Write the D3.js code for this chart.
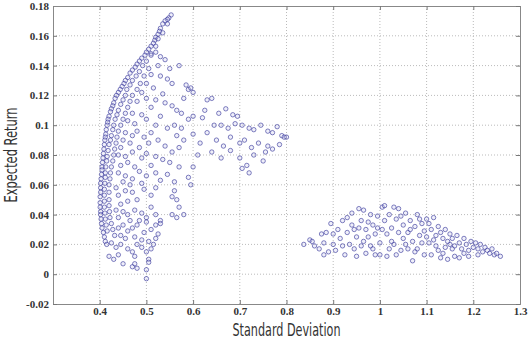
<!DOCTYPE html>
<html>
  <head>
    <meta charset="utf-8">
    <title>Expected Return vs Standard Deviation</title>
    <script src="https://cdn.jsdelivr.net/npm/d3@7/dist/d3.min.js"></script>
    <style>
      body { margin: 0; background: #fff; }
      .tick text { font-family: "Liberation Serif", serif; font-weight: bold; font-size: 11px; fill: #333; }
      .axis-label { font-family: "Liberation Sans Narrow", "DejaVu Sans Condensed", sans-serif; font-size: 17px; fill: #333; }
    </style>
  </head>
  <body>
    <script>

// axis ticks
var xTicks = [0.4, 0.5, 0.6, 0.7, 0.8, 0.9, 1, 1.1, 1.2, 1.3];
var yTicks = [-0.02, 0, 0.02, 0.04, 0.06, 0.08, 0.1, 0.12, 0.14, 0.16, 0.18];

// portfolios as [standard deviation, expected return]
// dense band along the upper-left edge
var edgePts = [
  [0.553,0.174],[0.548,0.172],[0.545,0.171],[0.54,0.17],
  [0.535,0.168],[0.53,0.165],[0.528,0.163],[0.525,0.161],[0.52,0.159],[0.518,0.157],
  [0.515,0.155],[0.51,0.153],[0.505,0.151],[0.5,0.149],[0.497,0.147],
  [0.49,0.145],[0.485,0.143],[0.48,0.141],[0.476,0.139],[0.47,0.137],
  [0.465,0.135],[0.46,0.132],[0.455,0.13],[0.452,0.128],
  [0.448,0.126],[0.444,0.124],[0.44,0.122],[0.436,0.12],[0.433,0.118],
  [0.43,0.115],[0.428,0.113],[0.425,0.111],[0.423,0.109],
  [0.42,0.106],[0.418,0.104],[0.417,0.102],[0.416,0.1],
  [0.414,0.097],[0.413,0.094],[0.412,0.092],[0.411,0.09],
  [0.41,0.087],[0.409,0.084],[0.408,0.081],[0.407,0.078],
  [0.406,0.075],[0.405,0.072],[0.405,0.07],
  [0.404,0.067],[0.403,0.064],[0.402,0.061],
  [0.402,0.058],[0.402,0.055],[0.401,0.052],
  [0.401,0.048],[0.401,0.045],[0.402,0.042],[0.402,0.04],
  [0.403,0.037],[0.404,0.034],[0.405,0.031],
  [0.408,0.028],[0.41,0.025],[0.412,0.022],[0.415,0.02],
  [0.545,0.168],[0.535,0.162],[0.525,0.158],[0.52,0.153],[0.51,0.148],[0.5,0.143],
  [0.492,0.14],[0.485,0.136],[0.478,0.133],[0.47,0.13],[0.465,0.127],[0.458,0.124],
  [0.455,0.12],[0.45,0.117],[0.445,0.114],[0.44,0.11],[0.437,0.107],[0.433,0.104],
  [0.43,0.1],[0.428,0.097],[0.425,0.093],[0.423,0.09],[0.42,0.087],[0.418,0.083],
  [0.416,0.079],[0.415,0.076],[0.413,0.072],[0.412,0.068],[0.412,0.065],[0.411,0.061],
  [0.41,0.057],[0.41,0.053],[0.41,0.049],[0.41,0.045],[0.411,0.041],[0.412,0.037],
  [0.414,0.033],[0.416,0.029],
  [0.505,0.138],[0.495,0.133],[0.487,0.128],[0.48,0.124],[0.47,0.12],[0.465,0.116],
  [0.46,0.112],[0.455,0.108],[0.45,0.104],[0.445,0.1],[0.44,0.096],[0.437,0.092],
  [0.435,0.088],[0.432,0.084],[0.43,0.08],[0.428,0.076],[0.425,0.072],[0.423,0.068],
  [0.422,0.064],[0.42,0.06],[0.42,0.055],[0.42,0.05],[0.42,0.046],[0.421,0.042],
  [0.422,0.038],[0.425,0.034],[0.428,0.03],[0.432,0.026]
];

// scattered points inside the left cloud
var innerPts = [
  [0.51,0.147],[0.52,0.149],[0.53,0.146],[0.54,0.144],[0.525,0.14],[0.55,0.138],[0.57,0.14],
  [0.51,0.134],[0.53,0.133],[0.545,0.131],[0.555,0.128],[0.5,0.128],[0.515,0.125],
  [0.49,0.122],[0.5,0.118],[0.52,0.117],[0.535,0.121],[0.54,0.115],[0.555,0.113],[0.565,0.11],[0.51,0.112],[0.48,0.116],
  [0.47,0.108],[0.49,0.107],[0.5,0.104],[0.475,0.101],[0.52,0.1],[0.53,0.106],[0.545,0.098],[0.46,0.103],
  [0.455,0.095],[0.47,0.093],[0.48,0.096],[0.495,0.092],[0.51,0.095],[0.505,0.088],[0.525,0.09],[0.465,0.088],
  [0.485,0.085],[0.45,0.09],[0.445,0.085],[0.54,0.086],
  [0.44,0.08],[0.455,0.079],[0.47,0.082],[0.49,0.078],[0.5,0.081],[0.52,0.079],[0.535,0.077],[0.46,0.075],
  [0.475,0.072],[0.445,0.073],[0.51,0.073],[0.55,0.075],
  [0.44,0.068],[0.455,0.066],[0.47,0.064],[0.485,0.069],[0.5,0.066],[0.52,0.068],[0.53,0.063],[0.45,0.062],
  [0.465,0.06],[0.49,0.061],[0.545,0.067],[0.56,0.062],
  [0.435,0.058],[0.44,0.053],[0.455,0.056],[0.47,0.055],[0.48,0.05],[0.495,0.057],[0.51,0.053],[0.52,0.058],
  [0.56,0.056],[0.555,0.052],[0.565,0.05],[0.595,0.06],[0.46,0.049],[0.445,0.047],
  [0.435,0.043],[0.45,0.042],[0.46,0.04],[0.475,0.043],[0.49,0.041],[0.5,0.038],[0.51,0.045],[0.52,0.04],
  [0.555,0.04],[0.565,0.038],[0.58,0.04],[0.57,0.045],[0.44,0.038],[0.53,0.036],[0.485,0.036],[0.465,0.036],
  [0.44,0.031],[0.45,0.033],[0.46,0.029],[0.47,0.031],[0.48,0.033],[0.495,0.028],[0.5,0.035],[0.51,0.03],
  [0.52,0.033],[0.53,0.034],[0.525,0.027],[0.445,0.026],[0.455,0.024],[0.475,0.025],[0.49,0.023],
  [0.425,0.021],[0.435,0.018],[0.445,0.02],[0.46,0.017],[0.47,0.015],[0.48,0.02],[0.49,0.018],[0.5,0.015],
  [0.51,0.017],[0.505,0.022],[0.515,0.02],[0.52,0.024],[0.475,0.012],[0.44,0.013],
  [0.42,0.012],[0.43,0.01],[0.45,0.007],[0.47,0.005],[0.475,0.007],[0.48,0.004],[0.505,0.01],[0.505,0.008],
  [0.5,0.003],[0.5,-0.003]
];

// the arm reaching right towards 0.8
var armPts = [
  [0.585,0.127],[0.59,0.124],[0.595,0.125],[0.6,0.122],[0.58,0.118],[0.575,0.108],[0.59,0.104],[0.6,0.106],
  [0.62,0.105],[0.63,0.117],[0.64,0.118],[0.625,0.11],[0.645,0.1],[0.655,0.108],[0.67,0.111],[0.685,0.107],
  [0.695,0.106],[0.66,0.1],[0.675,0.098],[0.69,0.101],[0.705,0.1],[0.72,0.098],[0.73,0.097],[0.745,0.1],
  [0.76,0.096],[0.77,0.095],[0.78,0.099],[0.79,0.093],[0.8,0.092],[0.795,0.092],[0.6,0.094],[0.615,0.088],
  [0.63,0.095],[0.65,0.09],[0.665,0.086],[0.68,0.092],[0.7,0.088],[0.71,0.09],[0.725,0.085],[0.74,0.088],
  [0.755,0.082],[0.77,0.084],[0.785,0.087],[0.64,0.082],[0.66,0.078],[0.68,0.083],[0.7,0.078],[0.715,0.073],
  [0.73,0.08],[0.75,0.076],[0.76,0.086],[0.72,0.068],[0.705,0.071],[0.58,0.09],[0.57,0.085],[0.575,0.098],
  [0.61,0.08],[0.6,0.072],[0.59,0.065],[0.56,0.1],[0.565,0.093],[0.555,0.082],[0.57,0.072]
];

// the second cloud on the right
var rightPts = [
  [0.837,0.02],[0.85,0.023],[0.855,0.022],[0.86,0.019],[0.87,0.017],[0.875,0.027],[0.88,0.021],[0.885,0.028],
  [0.89,0.015],[0.895,0.034],[0.9,0.02],[0.9,0.027],[0.88,0.013],
  [0.905,0.016],[0.91,0.03],[0.915,0.024],[0.92,0.036],[0.925,0.013],[0.93,0.028],[0.935,0.02],[0.94,0.041],
  [0.94,0.033],[0.945,0.017],[0.95,0.025],[0.95,0.012],[0.92,0.019],[0.93,0.038],[0.945,0.03],
  [0.955,0.044],[0.96,0.036],[0.96,0.019],[0.965,0.043],[0.97,0.03],[0.97,0.014],[0.975,0.025],[0.98,0.04],
  [0.98,0.019],[0.985,0.033],[0.99,0.013],[0.99,0.027],[0.995,0.039],[1.0,0.021],[1.0,0.013],[0.965,0.022],
  [0.955,0.031],[0.975,0.035],[0.985,0.017],[0.995,0.031],
  [1.005,0.045],[1.01,0.046],[1.01,0.036],[1.015,0.027],[1.02,0.04],[1.02,0.017],[1.025,0.031],[1.03,0.045],
  [1.03,0.02],[1.035,0.037],[1.04,0.028],[1.04,0.044],[1.045,0.016],[1.05,0.033],[1.05,0.024],[1.015,0.012],
  [1.025,0.022],[1.035,0.013],[1.045,0.039],[1.005,0.03],
  [1.055,0.041],[1.06,0.028],[1.06,0.017],[1.065,0.036],[1.07,0.022],[1.07,0.009],[1.075,0.032],[1.08,0.04],
  [1.08,0.017],[1.085,0.026],[1.09,0.034],[1.09,0.021],[1.095,0.013],[1.1,0.037],[1.1,0.025],[1.065,0.03],
  [1.085,0.037],[1.075,0.015],[1.095,0.029],[1.055,0.02],
  [1.105,0.034],[1.105,0.021],[1.11,0.03],[1.11,0.013],[1.115,0.038],[1.12,0.026],[1.12,0.019],[1.125,0.016],
  [1.13,0.028],[1.13,0.011],[1.135,0.024],[1.14,0.03],[1.14,0.018],[1.145,0.01],[1.15,0.027],[1.15,0.02],
  [1.115,0.023],[1.125,0.032],[1.135,0.014],[1.145,0.022],
  [1.155,0.024],[1.16,0.019],[1.16,0.012],[1.165,0.026],[1.17,0.021],[1.175,0.017],[1.18,0.024],[1.18,0.014],
  [1.185,0.02],[1.19,0.016],[1.195,0.022],[1.2,0.018],[1.17,0.011],[1.19,0.012],[1.155,0.017],
  [1.205,0.021],[1.21,0.017],[1.215,0.02],[1.22,0.015],[1.225,0.018],[1.23,0.016],[1.235,0.014],[1.24,0.017],
  [1.245,0.013],[1.25,0.014],[1.258,0.012],[1.21,0.013]
];

var allPts = edgePts.concat(innerPts, armPts, rightPts);

var w = 528;
var h = 343;
var margin = {top: 6, right: 8, bottom: 39, left: 53};
var iw = w - margin.left - margin.right;
var ih = h - margin.top - margin.bottom;

var svg = d3.select("body")
  .append("svg")
  .attr("width", w)
  .attr("height", h);

var g = svg.append("g")
  .attr("transform", "translate(" + margin.left + "," + margin.top + ")");

var xScale = d3.scaleLinear().domain([0.3, 1.3]).range([0, iw]);
var yScale = d3.scaleLinear().domain([-0.02, 0.18]).range([ih, 0]);

// dotted grid
g.selectAll(".vgrid")
  .data(xTicks.filter(function(d){ return d < 1.3; }))
  .enter().append("line")
  .attr("x1", function(d){ return xScale(d); })
  .attr("x2", function(d){ return xScale(d); })
  .attr("y1", 0).attr("y2", ih)
  .attr("stroke", "#bbb").attr("stroke-dasharray", "1,2");

g.selectAll(".hgrid")
  .data(yTicks.filter(function(d){ return d > -0.02 && d < 0.18; }))
  .enter().append("line")
  .attr("x1", 0).attr("x2", iw)
  .attr("y1", function(d){ return yScale(d); })
  .attr("y2", function(d){ return yScale(d); })
  .attr("stroke", "#bbb").attr("stroke-dasharray", "1,2");

// axes, ticks pointing inwards like matlab
var fmt = function(d){ return String(+d.toFixed(2)); };
var xAxis = d3.axisBottom(xScale).tickValues(xTicks).tickSize(-4).tickPadding(3).tickFormat(fmt);
var yAxis = d3.axisLeft(yScale).tickValues(yTicks).tickSize(-4).tickPadding(4).tickFormat(fmt);

g.append("g").attr("class", "axis").attr("transform", "translate(0," + ih + ")").call(xAxis);
g.append("g").attr("class", "axis").call(yAxis);
g.append("g")
  .call(d3.axisTop(xScale).tickValues(xTicks).tickSize(-4).tickFormat(""));
g.append("g").attr("transform", "translate(" + iw + ",0)")
  .call(d3.axisRight(yScale).tickValues(yTicks).tickSize(-4).tickFormat(""));

g.selectAll(".domain").attr("stroke", "#888");
g.selectAll(".tick line").attr("stroke", "#777");

// scatter points
g.selectAll("circle")
  .data(allPts)
  .enter()
  .append("circle")
  .attr("cx", function(d){ return xScale(d[0]); })
  .attr("cy", function(d){ return yScale(d[1]); })
  .attr("r", 2.2)
  .attr("fill", "rgba(210,210,240,0.35)")
  .attr("stroke", "rgba(45,45,150,0.75)")
  .attr("stroke-width", 0.8);

// axis labels
svg.append("text")
  .attr("class", "axis-label")
  .attr("x", margin.left + iw / 2)
  .attr("y", 336)
  .attr("text-anchor", "middle")
  .attr("textLength", 108)
  .attr("lengthAdjust", "spacingAndGlyphs")
  .text("Standard Deviation");

svg.append("text")
  .attr("class", "axis-label")
  .attr("transform", "translate(17," + (margin.top + ih / 2) + ") rotate(-90)")
  .attr("text-anchor", "middle")
  .attr("textLength", 95)
  .attr("lengthAdjust", "spacingAndGlyphs")
  .text("Expected Return");

    </script>
  </body>
</html>
